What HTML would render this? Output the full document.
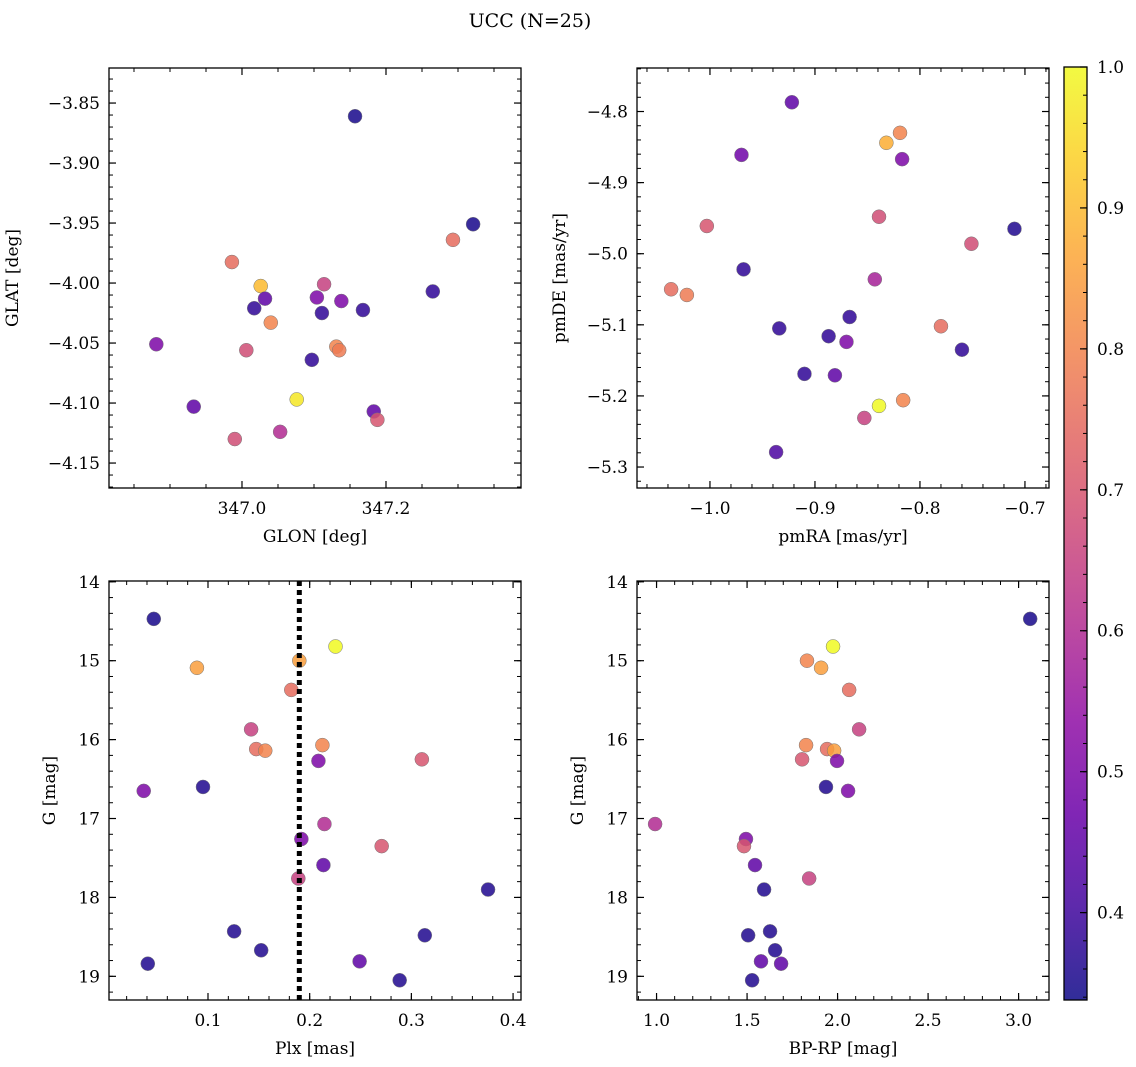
<!DOCTYPE html>
<html><head><meta charset="utf-8">
<style>
html,body{margin:0;padding:0;background:#fff;}
svg{display:block;font-family:"DejaVu Serif","Liberation Serif",serif;}
</style></head>
<body>
<svg id="fig" width="1136" height="1067" viewBox="0 0 1136 1067" xmlns="http://www.w3.org/2000/svg">
<defs>
<linearGradient id="plasmaGrad" x1="0" y1="1" x2="0" y2="0"></linearGradient>
</defs>
<text x="530" y="27" font-size="19" text-anchor="middle">UCC (N=25)</text>
</svg>
<script>
// ---- data ----
const glon = [347.157,347.321,347.293,346.986,347.026,347.114,347.032,347.104,347.017,347.138,347.265,347.168,347.111,347.040,346.881,347.006,347.131,347.135,347.097,347.076,346.933,347.183,347.188,346.990,347.053];
const glat = [-3.861,-3.951,-3.964,-3.9825,-4.0025,-4.001,-4.013,-4.012,-4.021,-4.015,-4.007,-4.0225,-4.025,-4.033,-4.051,-4.056,-4.053,-4.056,-4.064,-4.097,-4.103,-4.107,-4.114,-4.130,-4.124];
const probP1 = [0.35,0.35,0.75,0.75,0.9,0.65,0.45,0.5,0.38,0.5,0.38,0.38,0.38,0.8,0.5,0.68,0.8,0.78,0.38,0.97,0.45,0.45,0.7,0.68,0.6];

const pmra = [-0.922,-0.832,-0.819,-0.970,-0.817,-1.003,-0.839,-0.751,-0.710,-0.968,-0.843,-1.037,-1.022,-0.867,-0.780,-0.934,-0.887,-0.870,-0.760,-0.910,-0.881,-0.839,-0.816,-0.853,-0.937];
const pmde = [-4.787,-4.844,-4.830,-4.861,-4.867,-4.961,-4.948,-4.986,-4.965,-5.022,-5.036,-5.050,-5.058,-5.089,-5.102,-5.105,-5.116,-5.124,-5.135,-5.169,-5.171,-5.214,-5.206,-5.231,-5.279];
const probP2 = [0.45,0.88,0.8,0.48,0.5,0.7,0.68,0.68,0.36,0.38,0.58,0.75,0.78,0.38,0.75,0.38,0.38,0.5,0.38,0.38,0.45,1.0,0.8,0.65,0.42];

const plx = [0.0467,0.2254,0.0891,0.1898,0.1819,0.1424,0.1474,0.1563,0.2125,0.3103,0.2086,0.0368,0.0951,0.2145,0.1918,0.2708,0.2135,0.1888,0.3754,0.1257,0.3132,0.1523,0.2491,0.0408,0.2885];
const gmagP3 = [14.47,14.82,15.09,15.00,15.37,15.87,16.12,16.14,16.07,16.25,16.27,16.65,16.60,17.07,17.26,17.35,17.59,17.76,17.90,18.43,18.48,18.67,18.81,18.84,19.05];
const probP3 = [0.35,1.0,0.85,0.85,0.75,0.65,0.75,0.8,0.8,0.7,0.5,0.5,0.36,0.6,0.5,0.7,0.45,0.65,0.36,0.36,0.36,0.36,0.45,0.36,0.36];
const plxMedian = [0.1898];

const bprp = [3.064,1.975,1.831,1.909,2.064,2.119,1.826,1.942,1.981,1.804,1.997,1.936,2.058,0.992,1.494,1.483,1.544,1.843,1.594,1.627,1.506,1.655,1.577,1.688,1.528];
const gmagP4 = [14.47,14.82,15.00,15.09,15.37,15.87,16.07,16.12,16.14,16.25,16.27,16.60,16.65,17.07,17.26,17.35,17.59,17.76,17.90,18.43,18.48,18.67,18.81,18.84,19.05];
const probP4 = [0.35,1.0,0.8,0.85,0.75,0.65,0.8,0.75,0.85,0.7,0.5,0.36,0.5,0.6,0.5,0.7,0.45,0.65,0.36,0.36,0.36,0.36,0.45,0.45,0.36];

const ticksP1x = [347.0,347.2], ticksP1y = [-3.85,-3.90,-3.95,-4.00,-4.05,-4.10,-4.15];
const labelsP1x = ["347.0","347.2"], labelsP1y = ["−3.85","−3.90","−3.95","−4.00","−4.05","−4.10","−4.15"];
const ticksP2x = [-1.0,-0.9,-0.8,-0.7], ticksP2y = [-4.8,-4.9,-5.0,-5.1,-5.2,-5.3];
const labelsP2x = ["−1.0","−0.9","−0.8","−0.7"], labelsP2y = ["−4.8","−4.9","−5.0","−5.1","−5.2","−5.3"];
const ticksP3x = [0.1,0.2,0.3,0.4], ticksGy = [14,15,16,17,18,19];
const labelsP3x = ["0.1","0.2","0.3","0.4"], labelsGy = ["14","15","16","17","18","19"];
const ticksP4x = [1.0,1.5,2.0,2.5,3.0];
const labelsP4x = ["1.0","1.5","2.0","2.5","3.0"];
const ticksCbar = [0.4,0.5,0.6,0.7,0.8,0.9,1.0];
const labelsCbar = ["0.4","0.5","0.6","0.7","0.8","0.9","1.0"];
const cmin = 0.338, cmax = 1.0;

// ---- helpers ----
const NS="http://www.w3.org/2000/svg";
const svg=document.getElementById('fig');
function mk(tag,attrs,parent){const e=document.createElementNS(NS,tag);for(const k in attrs)e.setAttribute(k,attrs[k]);(parent||svg).appendChild(e);return e;}
const plasmaStops=["#0d0887","#41049d","#6a00a8","#8f0da4","#b12a90","#cc4778","#e16462","#f2844b","#fca636","#fcce25","#f0f921"];
function hex2rgb(h){return [parseInt(h.slice(1,3),16),parseInt(h.slice(3,5),16),parseInt(h.slice(5,7),16)];}
function plasma(t){t=Math.max(0,Math.min(1,t));const s=t*10,i=Math.min(9,Math.floor(s)),f=s-i;const a=hex2rgb(plasmaStops[i]),b=hex2rgb(plasmaStops[i+1]);return 'rgb('+a.map((v,k)=>Math.round(v+(b[k]-v)*f)).join(',')+')';}
function cnorm(v){return (v-cmin)/(cmax-cmin);}

function panel(name,box,xr,yr,xt,xl,yt,yl,xminor,yminor,xlabel,ylabel,ylabOff,xs,ys,cs){
  const g=mk('g',{});  
  const sx=v=>box.x0+(v-xr[0])/(xr[1]-xr[0])*(box.x1-box.x0);
  const sy=v=>box.y1-(v-yr[0])/(yr[1]-yr[0])*(box.y1-box.y0);
  function range(a,b,st){const out=[];const s=Math.ceil(Math.min(a,b)/st-1e-6);const e=Math.floor(Math.max(a,b)/st+1e-6);for(let i=s;i<=e;i++)out.push(i*st);return out;}
  range(xr[0],xr[1],xminor).forEach(v=>{const x=sx(v);mk('line',{x1:x,x2:x,y1:box.y1,y2:box.y1-4,stroke:'#000','stroke-width':1},g);mk('line',{x1:x,x2:x,y1:box.y0,y2:box.y0+4,stroke:'#000','stroke-width':1},g);});
  range(yr[0],yr[1],yminor).forEach(v=>{const y=sy(v);mk('line',{x1:box.x0,x2:box.x0+4,y1:y,y2:y,stroke:'#000','stroke-width':1},g);mk('line',{x1:box.x1,x2:box.x1-4,y1:y,y2:y,stroke:'#000','stroke-width':1},g);});
  xt.forEach((v,i)=>{const x=sx(v);mk('line',{x1:x,x2:x,y1:box.y1,y2:box.y1-7,stroke:'#000','stroke-width':1.2},g);mk('line',{x1:x,x2:x,y1:box.y0,y2:box.y0+7,stroke:'#000','stroke-width':1.2},g);
    const t=mk('text',{x:x,y:box.y1+26,'font-size':17,'text-anchor':'middle'},g);t.textContent=xl[i];
     });
  yt.forEach((v,i)=>{const y=sy(v);mk('line',{x1:box.x0,x2:box.x0+7,y1:y,y2:y,stroke:'#000','stroke-width':1.2},g);mk('line',{x1:box.x1,x2:box.x1-7,y1:y,y2:y,stroke:'#000','stroke-width':1.2},g);
    const t=mk('text',{x:box.x0-9,y:y+6,'font-size':17,'text-anchor':'end'},g);t.textContent=yl[i];
     });
  mk('rect',{x:box.x0,y:box.y0,width:box.x1-box.x0,height:box.y1-box.y0,fill:'none',stroke:'#000','stroke-width':1.3},g);
  const xlab=mk('text',{x:(box.x0+box.x1)/2,y:box.y1+54,'font-size':17,'text-anchor':'middle'},g);xlab.textContent=xlabel;
   
  const yx=box.x0-ylabOff;
  const ylab=mk('text',{x:yx,y:(box.y0+box.y1)/2,'font-size':17,'text-anchor':'middle',transform:'rotate(-90 '+yx+' '+(box.y0+box.y1)/2+')'},g);ylab.textContent=ylabel;
   
  xs.forEach((v,i)=>{const c=mk('circle',{cx:sx(v),cy:sy(ys[i]),r:7,fill:plasma(cnorm(cs[i])),'fill-opacity':0.85,stroke:'#777','stroke-width':0.5},g);
     });
  return {g,sx,sy};
}

panel('panel-glon-glat',{x0:109,x1:521,y0:68,y1:488},[346.8153,347.3875],[-4.1708,-3.8208],ticksP1x,labelsP1x,ticksP1y,labelsP1y,0.05,0.01,'GLON [deg]','GLAT [deg]',91,glon,glat,probP1);
panel('panel-pmra-pmde',{x0:637,x1:1049,y0:68,y1:488},[-1.0695,-0.6771],[-5.3295,-4.7388],ticksP2x,labelsP2x,ticksP2y,labelsP2y,0.02,0.02,'pmRA [mas/yr]','pmDE [mas/yr]',72,pmra,pmde,probP2);
const p3=panel('panel-plx-g',{x0:109,x1:521,y0:581,y1:1000},[0.00265,0.4078],[-19.30,-13.99],ticksP3x,labelsP3x,ticksGy.map(v=>-v),labelsGy,0.02,0.2,'Plx [mas]','G [mag]',54,plx,gmagP3.map(v=>-v),probP3);
const mx=p3.sx(plxMedian[0]);
const ml=mk('line',{x1:mx,x2:mx,y1:581,y2:1000,stroke:'#000','stroke-width':5,'stroke-dasharray':'5 4'},p3.g);
 
panel('panel-bprp-g',{x0:637,x1:1049,y0:581,y1:1000},[0.892,3.168],[-19.30,-13.99],ticksP4x,labelsP4x,ticksGy.map(v=>-v),labelsGy,0.1,0.2,'BP-RP [mag]','G [mag]',54,bprp,gmagP4.map(v=>-v),probP4);

// colorbar
const grad=document.getElementById('plasmaGrad');
for(let i=0;i<=20;i++){const t=i/20;mk('stop',{offset:t,'stop-color':plasma(t),'stop-opacity':0.85},grad);}
const cb=mk('g',{});
const cy0=67,cy1=1000,cx0=1064,cx1=1087;
const cy=v=>cy1-(v-cmin)/(cmax-cmin)*(cy1-cy0);
mk('rect',{x:cx0,y:cy0,width:cx1-cx0,height:cy1-cy0,fill:'url(#plasmaGrad)',stroke:'#000','stroke-width':1.3},cb);
for(let k=Math.ceil(cmin/0.02);k<=50;k++){const y=cy(k*0.02);mk('line',{x1:cx1,x2:cx1-4,y1:y,y2:y,stroke:'#000','stroke-width':1},cb);}
ticksCbar.forEach((v,i)=>{const y=cy(v);mk('line',{x1:cx1,x2:cx1-7,y1:y,y2:y,stroke:'#000','stroke-width':1.2},cb);
  const t=mk('text',{x:cx1+10,y:y+6,'font-size':17},cb);t.textContent=labelsCbar[i];
   });
</script>
</body></html>
